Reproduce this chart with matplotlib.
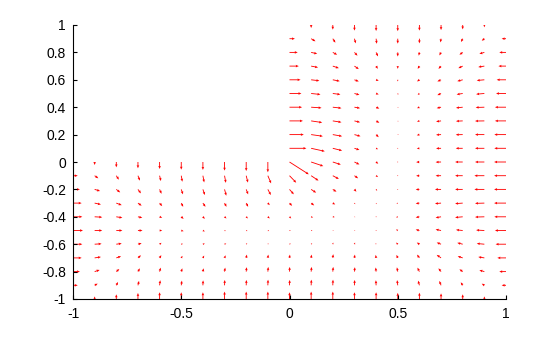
import numpy as np
import matplotlib
matplotlib.use("Agg")
import matplotlib.pyplot as plt

plt.rcParams['font.family'] = ['Liberation Sans', 'DejaVu Sans']

# grid of the upper-right square (y = 1 .. 0.1) and of the lower strip (y = 0 .. -1)
x_top = [0.0, 0.1, 0.2, 0.3, 0.4, 0.5, 0.6, 0.7, 0.8, 0.9, 1.0]
y_top = [1.0, 0.9, 0.8, 0.7, 0.6, 0.5, 0.4, 0.3, 0.2, 0.1]
x_bot = [-1.0, -0.9, -0.8, -0.7, -0.6, -0.5, -0.4, -0.3, -0.2, -0.1, 0.0,
         0.1, 0.2, 0.3, 0.4, 0.5, 0.6, 0.7, 0.8, 0.9, 1.0]
y_bot = [0.0, -0.1, -0.2, -0.3, -0.4, -0.5, -0.6, -0.7, -0.8, -0.9, -1.0]

# vector components (rows follow y_top / y_bot)
u_top = [
    [0, 0, 0, 0, 0, 0, 0, 0, 0, 0, 0],
    [0.025, 0.020, 0.012, 0.006, 0.003, 0.000, 0.000, -0.003, -0.008, -0.012, -0.020],
    [0.038, 0.028, 0.020, 0.014, 0.009, 0.000, -0.003, -0.008, -0.015, -0.023, -0.031],
    [0.043, 0.032, 0.028, 0.020, 0.008, 0.000, -0.008, -0.012, -0.020, -0.028, -0.035],
    [0.051, 0.038, 0.032, 0.020, 0.012, 0.000, -0.011, -0.017, -0.025, -0.035, -0.043],
    [0.055, 0.043, 0.035, 0.023, 0.012, 0.002, -0.008, -0.017, -0.028, -0.038, -0.046],
    [0.058, 0.048, 0.040, 0.026, 0.015, 0.003, -0.011, -0.020, -0.031, -0.040, -0.051],
    [0.062, 0.051, 0.040, 0.026, 0.015, 0.003, -0.011, -0.023, -0.031, -0.043, -0.051],
    [0.066, 0.054, 0.043, 0.028, 0.012, 0.004, -0.012, -0.023, -0.032, -0.043, -0.054],
    [0.078, 0.063, 0.043, 0.023, 0.009, 0.002, -0.012, -0.023, -0.032, -0.043, -0.054],
]
v_top = [
    [0, -0.022, -0.034, -0.041, -0.044, -0.045, -0.041, -0.037, -0.032, -0.017, 0],
    [0, -0.019, -0.029, -0.034, -0.037, -0.036, -0.034, -0.027, -0.024, -0.015, 0],
    [0, -0.010, -0.017, -0.024, -0.029, -0.030, -0.024, -0.022, -0.017, -0.010, 0],
    [0, -0.010, -0.015, -0.022, -0.020, -0.020, -0.020, -0.020, -0.015, -0.007, 0],
    [0, -0.007, -0.010, -0.012, -0.007, -0.012, -0.012, -0.012, -0.010, -0.005, 0],
    [0, -0.007, -0.007, -0.010, -0.007, -0.010, -0.010, -0.012, -0.007, -0.005, 0],
    [0, -0.005, -0.007, -0.007, -0.010, -0.005, -0.007, -0.007, -0.005, -0.002, 0],
    [0, -0.012, -0.010, -0.010, -0.014, -0.005, -0.005, -0.005, -0.002, -0.001, 0],
    [0, -0.012, -0.012, -0.012, -0.019, -0.003, -0.005, -0.002, -0.001, 0, 0],
    [0, -0.022, -0.017, -0.012, -0.007, -0.002, -0.002, -0.001, 0, 0, 0],
]
u_bot = [
    [0, 0, 0, 0, 0, 0, 0, 0, 0, 0, 0.089,
     0.056, 0.037, 0.023, 0.010, 0.002, -0.015, -0.025, -0.035, -0.043, -0.055],
    [0.022, 0.017, 0.012, 0.009, 0.006, 0.005, 0.006, 0.006, 0.008, 0.015, 0.031,
     0.034, 0.028, 0.017, 0.009, 0.000, -0.015, -0.025, -0.035, -0.046, -0.055],
    [0.032, 0.025, 0.018, 0.014, 0.009, 0.008, 0.009, 0.008, 0.009, 0.014, 0.020,
     0.023, 0.017, 0.009, 0.005, -0.003, -0.017, -0.028, -0.035, -0.046, -0.055],
    [0.040, 0.029, 0.025, 0.017, 0.012, 0.009, 0.012, 0.009, 0.009, 0.009, 0.012,
     0.014, 0.011, 0.004, 0.002, -0.006, -0.017, -0.028, -0.035, -0.043, -0.055],
    [0.043, 0.035, 0.028, 0.020, 0.012, 0.011, 0.009, 0.009, 0.008, 0.009, 0.008,
     0.009, 0.009, 0.004, 0.003, -0.008, -0.017, -0.025, -0.035, -0.043, -0.054],
    [0.046, 0.035, 0.028, 0.021, 0.012, 0.011, 0.009, 0.006, 0.006, 0.006, 0.006,
     0.006, 0.004, 0.004, 0.002, -0.008, -0.017, -0.025, -0.031, -0.038, -0.051],
    [0.043, 0.032, 0.025, 0.017, 0.009, 0.008, 0.009, 0.008, 0.005, 0.003, 0.006,
     0.005, 0.002, 0.003, -0.002, -0.008, -0.012, -0.020, -0.025, -0.035, -0.048],
    [0.040, 0.029, 0.022, 0.014, 0.008, 0.006, 0.006, 0.005, 0.003, 0.002, 0.002,
     0.002, 0.002, 0.002, -0.002, -0.006, -0.011, -0.020, -0.023, -0.028, -0.040],
    [0.032, 0.023, 0.014, 0.009, 0.005, 0.005, 0.003, 0.003, 0.002, 0.002, 0.001,
     0.002, 0.002, 0.002, -0.002, -0.004, -0.009, -0.012, -0.015, -0.023, -0.031],
    [0.022, 0.014, 0.008, 0.005, 0.003, 0.003, 0.001, 0.001, 0.001, 0.001, 0.001,
     0.001, 0.001, 0.001, -0.001, -0.003, -0.006, -0.008, -0.009, -0.012, -0.020],
    [0, 0, 0, 0, 0, 0, 0, 0, 0, 0, 0,
     0, 0, 0, 0, 0, 0, 0, 0, 0, 0],
]
v_bot = [
    [0, -0.022, -0.039, -0.046, -0.051, -0.056, -0.058, -0.063, -0.066, -0.075, -0.090,
     -0.030, -0.019, -0.018, -0.013, -0.003, -0.001, -0.001, 0, 0, 0],
    [0, -0.019, -0.029, -0.036, -0.039, -0.044, -0.049, -0.052, -0.050, -0.056, -0.051,
     -0.036, -0.024, -0.019, -0.010, -0.004, -0.001, 0, 0, 0, 0],
    [0, -0.012, -0.022, -0.029, -0.032, -0.036, -0.041, -0.046, -0.036, -0.041, -0.036,
     -0.024, -0.017, -0.017, -0.010, -0.002, -0.001, 0, 0, 0, 0],
    [0, -0.010, -0.015, -0.019, -0.022, -0.027, -0.027, -0.027, -0.027, -0.015, -0.020,
     -0.017, -0.010, -0.008, -0.008, -0.004, -0.004, -0.004, -0.004, -0.002, 0],
    [0, -0.003, -0.007, -0.007, -0.007, -0.015, -0.015, -0.012, -0.012, -0.012, -0.012,
     -0.005, -0.002, -0.002, -0.002, -0.004, -0.005, -0.007, -0.005, -0.002, 0],
    [0, 0, 0, 0, 0, -0.005, -0.007, -0.004, -0.004, -0.004, -0.002,
     -0.002, 0.003, 0.003, 0.005, 0.008, 0.007, 0.008, 0.005, 0.003, 0],
    [0, 0.003, 0.005, 0.007, 0.010, 0.003, 0.005, 0.005, 0.007, 0.007, 0.005,
     0.007, 0.012, 0.012, 0.008, 0.012, 0.012, 0.012, 0.010, 0.005, 0],
    [0, 0.007, 0.012, 0.019, 0.020, 0.015, 0.017, 0.019, 0.024, 0.024, 0.024,
     0.024, 0.027, 0.024, 0.022, 0.022, 0.024, 0.022, 0.012, 0.007, 0],
    [0, 0.012, 0.019, 0.024, 0.029, 0.024, 0.024, 0.029, 0.032, 0.034, 0.034,
     0.034, 0.034, 0.032, 0.030, 0.031, 0.029, 0.024, 0.017, 0.010, 0],
    [0, 0.012, 0.024, 0.032, 0.037, 0.034, 0.036, 0.039, 0.039, 0.041, 0.039,
     0.041, 0.041, 0.039, 0.037, 0.038, 0.034, 0.032, 0.022, 0.012, 0],
    [0, 0.019, 0.034, 0.044, 0.049, 0.049, 0.049, 0.054, 0.054, 0.054, 0.049,
     0.054, 0.054, 0.049, 0.049, 0.045, 0.046, 0.041, 0.034, 0.019, 0],
]

x_ticks = [-1, -0.5, 0, 0.5, 1]
x_labels = ["-1", "-0.5", "0", "0.5", "1"]
y_ticks = [-1, -0.8, -0.6, -0.4, -0.2, 0, 0.2, 0.4, 0.6, 0.8, 1]
y_labels = ["-1", "-0.8", "-0.6", "-0.4", "-0.2", "0", "0.2", "0.4", "0.6", "0.8", "1"]

# flatten both parts of the L-shaped grid
xt, yt = np.meshgrid(x_top, y_top)
xb, yb = np.meshgrid(x_bot, y_bot)
X = np.concatenate([xt.ravel(), xb.ravel()])
Y = np.concatenate([yt.ravel(), yb.ravel()])
U = np.concatenate([np.ravel(u_top), np.ravel(u_bot)])
V = np.concatenate([np.ravel(v_top), np.ravel(v_bot)])

# zero vectors are not drawn
keep = (U != 0) | (V != 0)
X, Y, U, V = X[keep], Y[keep], U[keep], V[keep]

fig = plt.figure(figsize=(5.6, 3.37), dpi=100)
ax = fig.add_axes([73 / 560, 1 - 299 / 337, (506 - 73) / 560, (299 - 25) / 337])

ax.quiver(X, Y, U, V, angles='xy', scale_units='xy', scale=1, color='red',
          width=0.002, headwidth=3, headlength=3.5, headaxislength=3.2)

ax.set_xlim(-1, 1)
ax.set_ylim(-1, 1)
ax.set_xticks(x_ticks)
ax.set_xticklabels(x_labels)
ax.set_yticks(y_ticks)
ax.set_yticklabels(y_labels)

for side in ['top', 'right']:
    ax.spines[side].set_visible(False)
for side in ['left', 'bottom']:
    ax.spines[side].set_linewidth(0.8)

ax.tick_params(direction='in', length=3, width=0.8, labelsize=10)
ax.tick_params(axis='x', pad=5.5)
ax.tick_params(axis='y', pad=5)

fig.savefig("out.png", dpi=100)
